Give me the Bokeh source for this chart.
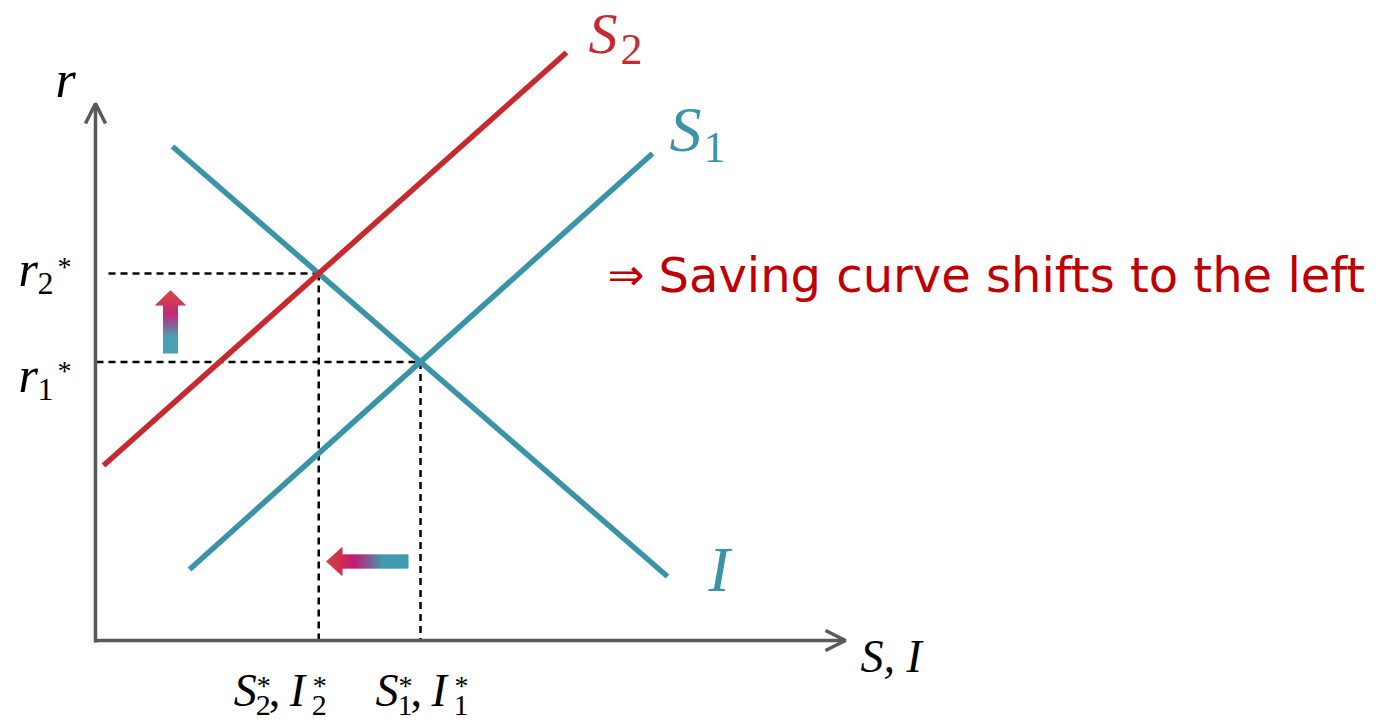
import numpy as np
from bokeh.plotting import figure
from bokeh.models import Range1d, Arrow, OpenHead
from bokeh.core.properties import value
from bokeh.embed import file_html
from bokeh.resources import INLINE

# ---------------- data (schematic units, origin at the axes' corner) ----------------
I_x = [77, 572]
I_y = [494, 64]
S1_x = [94, 557]
S1_y = [71, 487]
S2_x = [8, 471]
S2_y = [175, 588]
x_axis_end = 750
y_axis_end = 537
r2_dash_start = 13

TEAL = "#3A93A9"
RED = "#C8292F"
AXIS = "#595959"
TEXT_RED = "#C00000"
MATH = "Liberation Serif"


def intersect(ax, ay, bx, by):
    ma = (ay[1] - ay[0]) / (ax[1] - ax[0])
    mb = (by[1] - by[0]) / (bx[1] - bx[0])
    x = (by[0] - ay[0] + ma * ax[0] - mb * bx[0]) / (ma - mb)
    return x, ay[0] + ma * (x - ax[0])


q1, r1 = intersect(I_x, I_y, S1_x, S1_y)
q2, r2 = intersect(I_x, I_y, S2_x, S2_y)

W, H = 1387, 720
p = figure(width=W, height=H, output_backend="svg", toolbar_location=None,
           x_range=Range1d(-95, -95 + W), y_range=Range1d(640 - H, 640),
           min_border=0, outline_line_color=None)
p.axis.visible = False
p.grid.visible = False
p.background_fill_color = "white"

# axes with open arrow heads
p.add_layout(Arrow(end=OpenHead(size=20, line_color=AXIS, line_width=3.5),
                   x_start=0, y_start=-2, x_end=0, y_end=y_axis_end,
                   line_color=AXIS, line_width=3.5))
p.add_layout(Arrow(end=OpenHead(size=20, line_color=AXIS, line_width=3.5),
                   x_start=-1.5, y_start=0, x_end=x_axis_end, y_end=0,
                   line_color=AXIS, line_width=3.5))

# dashed guides
dash = dict(line_color="black", line_width=2.5, line_dash="7 5")
p.line([r2_dash_start, q2], [r2, r2], **dash)
p.line([q2, q2], [r2, 0], **dash)
p.line([1, q1], [r1, r1], **dash)
p.line([q1, q1], [r1, 0], **dash)

# curves
p.line(I_x, I_y, line_color=TEAL, line_width=5.5, line_cap="butt")
p.line(S1_x, S1_y, line_color=TEAL, line_width=5.5, line_cap="butt")
p.line(S2_x, S2_y, line_color=RED, line_width=5.5, line_cap="butt")


# gradient arrows
def hex2rgb(h):
    h = h.lstrip("#")
    return np.array([int(h[i:i + 2], 16) for i in (0, 2, 4)], dtype=float)


def grad(stops, t):
    for (t0, c0), (t1, c1) in zip(stops, stops[1:]):
        if t <= t1:
            f = 0.0 if t1 == t0 else (t - t0) / (t1 - t0)
            c = hex2rgb(c0) * (1 - f) + hex2rgb(c1) * f
            return "#%02x%02x%02x" % tuple(int(round(v)) for v in c)
    return stops[-1][1]


up_stops = [(0, "#3A94AA"), (0.28, "#3A94AA"), (0.62, "#BE1170"), (0.8, "#C9254A"), (1, "#D23535")]
left_stops = [(0, "#3A94AA"), (0.32, "#3A94AA"), (0.66, "#BE1170"), (0.82, "#C9254A"), (1, "#D23535")]

# up arrow: centre x, tail y, head-base y, tip y, shaft half width, head half width
ua_x, ua_tail, ua_base, ua_tip, ua_sh, ua_hh = 75, 287, 335, 350, 7.5, 15.5
n = 126
ys = np.linspace(ua_tail, ua_tip, n + 1)
L, R, B, T, C = [], [], [], [], []
for i in range(n):
    ym = 0.5 * (ys[i] + ys[i + 1])
    half = ua_sh if ym < ua_base else ua_hh * (ua_tip - ym) / (ua_tip - ua_base)
    L.append(ua_x - half); R.append(ua_x + half)
    B.append(ys[i]); T.append(min(ys[i + 1] + 0.35, ua_tip))
    C.append(grad(up_stops, (ym - ua_tail) / (ua_tip - ua_tail)))
p.quad(left=L, right=R, bottom=B, top=T, fill_color=C, line_color=None)

# left arrow: centre y, tail x, head-base x, tip x
la_y, la_tail, la_base, la_tip, la_sh, la_hh = 79, 313, 247, 231, 7, 14.5
n = 164
xs = np.linspace(la_tail, la_tip, n + 1)
L, R, B, T, C = [], [], [], [], []
for i in range(n):
    xm = 0.5 * (xs[i] + xs[i + 1])
    half = la_sh if xm > la_base else la_hh * (xm - la_tip) / (la_base - la_tip)
    L.append(max(xs[i + 1] - 0.35, la_tip)); R.append(xs[i])
    B.append(la_y - half); T.append(la_y + half)
    C.append(grad(left_stops, (la_tail - xm) / (la_tail - la_tip)))
p.quad(left=L, right=R, bottom=B, top=T, fill_color=C, line_color=None)

BASE_FIX = {MATH: 0.36, "DejaVu Sans": 0.40}


def txt(x, y, s, size, color="black", style="normal", font=MATH):
    # y is the wanted alphabetic baseline; compensate the renderer's baseline offset
    y = y + BASE_FIX[font] * size
    p.text(x=[x], y=[y], text=[s], text_font=value(font), text_font_size=value(f"{size}px"),
           text_font_style=style, text_color=color, text_align="left", text_baseline="alphabetic")


# axis labels
txt(-40, y_axis_end + 5, "r", 52, style="italic")
txt(x_axis_end + 15, -33, "S, I", 46, style="italic")

# curve labels
txt(S2_x[1] + 22, S2_y[1] - 2, "S", 58, RED, "italic")
txt(S2_x[1] + 54, S2_y[1] - 13, "2", 44, RED)
txt(S1_x[1] + 17, S1_y[1] + 1, "S", 64, TEAL, "italic")
txt(S1_x[1] + 51, S1_y[1] - 10, "1", 44, TEAL)
txt(I_x[1] + 41, I_y[1] - 16, "I", 64, TEAL, "italic")

# r* labels
for r, dy_r, dy_sub, dy_star, sub in [(r2, -13, -21, -3, "2"), (r1, -31, -39, -19, "1")]:
    txt(-77, r + dy_r, "r", 50, style="italic")
    txt(-58, r + dy_sub, sub, 32)
    txt(-38, r + dy_star, "*", 28)

# S*, I* labels
for q, off, sub in [(q2, -85, "2"), (q1, -45, "1")]:
    x0 = q + off
    txt(x0, -67, "S", 46, style="italic")
    txt(x0 + 22, -76, sub, 30)
    txt(x0 + 23, -55, "*", 28)
    txt(x0 + 35, -67, ",", 46)
    txt(x0 + 56, -67, "I", 46, style="italic")
    txt(x0 + 78, -76, sub, 30)
    txt(x0 + 79, -55, "*", 28)

# annotation
txt(512, r2 - 19, "\u21d2", 44, TEXT_RED, font="DejaVu Sans")
txt(563, r2 - 21, "Saving curve shifts to the left", 48, TEXT_RED, font="DejaVu Sans")

open("out.html", "w").write(file_html(p, INLINE))
